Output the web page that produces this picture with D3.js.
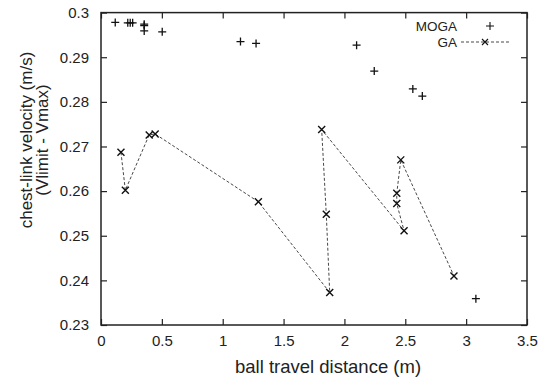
<!DOCTYPE html>
<html>
<head>
<meta charset="utf-8">
<script src="https://cdn.jsdelivr.net/npm/d3@7"></script>
<style>
  body { margin: 0; background: #fff; }
  text { font-family: "Liberation Sans", Arial, sans-serif; fill: #222; }
</style>
</head>
<body>
<div id="chart"></div>
<script>
var width = 548, height = 381,
	margin = {top: 12.6, right: 21, bottom: 56, left: 101};

// MOGA points (unconnected "+")
var mogaX = [0.117, 0.22, 0.24, 0.26, 0.355, 0.355, 0.355, 0.503, 1.146, 1.274, 2.10, 2.245, 2.562, 2.64, 3.08];
var mogaY = [0.2978, 0.2977, 0.2977, 0.2977, 0.2974, 0.2971, 0.2959, 0.2957, 0.2935, 0.2931, 0.2927, 0.2869, 0.2829, 0.2813, 0.2359];

// GA points, in drawing order ("x" joined by a dashed line)
var gaX = [0.164, 0.20, 0.396, 0.445, 1.293, 1.879, 1.851, 1.813, 2.49, 2.43, 2.43, 2.463, 2.90];
var gaY = [0.2687, 0.2602, 0.2726, 0.2728, 0.2576, 0.2373, 0.2548, 0.2738, 0.2511, 0.2572, 0.2595, 0.2670, 0.2410];

var xTicks = [0, 0.5, 1, 1.5, 2, 2.5, 3, 3.5];
var yTicks = [0.23, 0.24, 0.25, 0.26, 0.27, 0.28, 0.29, 0.3];

var svg = d3.select("#chart").append("svg")
	.attr("width", width)
	.attr("height", height);

var x = d3.scaleLinear().domain([0, 3.5]).range([margin.left, width - margin.right]),
	y = d3.scaleLinear().domain([0.23, 0.30]).range([height - margin.bottom, margin.top]);

var tickLen = 6;

// axes, ticks drawn inward on all four sides
svg.append("g")
	.attr("transform", "translate(0," + y.range()[0] + ")")
	.call(d3.axisBottom(x).tickValues(xTicks).tickSizeInner(-tickLen).tickSizeOuter(0).tickPadding(10)
		.tickFormat(d3.format("")))
	.call(styleAxis);
svg.append("g")
	.attr("transform", "translate(0," + y.range()[1] + ")")
	.call(d3.axisTop(x).tickValues(xTicks).tickSizeInner(-tickLen).tickSizeOuter(0).tickFormat(""))
	.call(styleAxis);
svg.append("g")
	.attr("transform", "translate(" + x.range()[0] + ",0)")
	.call(d3.axisLeft(y).tickValues(yTicks).tickSizeInner(-tickLen).tickSizeOuter(0).tickPadding(12)
		.tickFormat(d3.format("")))
	.call(styleAxis);
svg.append("g")
	.attr("transform", "translate(" + x.range()[1] + ",0)")
	.call(d3.axisRight(y).tickValues(yTicks).tickSizeInner(-tickLen).tickSizeOuter(0).tickFormat(""))
	.call(styleAxis);

function styleAxis(g) {
	g.select(".domain").remove();
	g.selectAll(".tick line").attr("stroke", "#222").attr("stroke-width", 1.2);
	g.selectAll(".tick text").style("font-size", "15px").style("font-family", "Liberation Sans, Arial, sans-serif").attr("fill", "#222");
}

// frame
svg.append("rect")
	.attr("x", x.range()[0])
	.attr("y", y.range()[1])
	.attr("width", x.range()[1] - x.range()[0])
	.attr("height", y.range()[0] - y.range()[1])
	.attr("fill", "none")
	.attr("stroke", "#222")
	.attr("stroke-width", 1.5);

// GA dashed line
var ga = gaX.map(function(d, i) { return [d, gaY[i]]; }),
	moga = mogaX.map(function(d, i) { return [d, mogaY[i]]; });

svg.append("path")
	.datum(ga)
	.attr("fill", "none")
	.attr("stroke", "#333")
	.attr("stroke-width", 0.9)
	.attr("stroke-dasharray", "3,2")
	.attr("d", d3.line().x(function(d) { return x(d[0]); }).y(function(d) { return y(d[1]); }));

var s = 3.5;
svg.append("g").selectAll("path")
	.data(ga)
	.enter()
	.append("path")
	.attr("transform", function(d) { return "translate(" + x(d[0]) + "," + y(d[1]) + ")"; })
	.attr("d", "M" + (-s) + "," + (-s) + "L" + s + "," + s + "M" + (-s) + "," + s + "L" + s + "," + (-s))
	.attr("stroke", "#111")
	.attr("stroke-width", 1.4)
	.attr("fill", "none");

var p = 4;
svg.append("g").selectAll("path")
	.data(moga)
	.enter()
	.append("path")
	.attr("transform", function(d) { return "translate(" + x(d[0]) + "," + y(d[1]) + ")"; })
	.attr("d", "M" + (-p) + ",0H" + p + "M0," + (-p) + "V" + p)
	.attr("stroke", "#111")
	.attr("stroke-width", 1.3)
	.attr("fill", "none");

// legend
var legend = svg.append("g").attr("transform", "translate(457,0)");
legend.append("text").attr("x", 0).attr("y", 31).attr("text-anchor", "end").style("font-size", "13.5px").text("MOGA");
legend.append("text").attr("x", 0).attr("y", 47).attr("text-anchor", "end").style("font-size", "13.5px").text("GA");
legend.append("path")
	.attr("d", "M" + (33 - p) + ",26H" + (33 + p) + "M33," + (26 - p) + "V" + (26 + p))
	.attr("stroke", "#111").attr("stroke-width", 1.1);
legend.append("line")
	.attr("x1", 4).attr("x2", 52).attr("y1", 42).attr("y2", 42)
	.attr("stroke", "#333").attr("stroke-width", 0.9).attr("stroke-dasharray", "3,2");
legend.append("path")
	.attr("transform", "translate(28,42)")
	.attr("d", "M-3,-3L3,3M-3,3L3,-3")
	.attr("stroke", "#111").attr("stroke-width", 1.1);

// axis titles
svg.append("text")
	.attr("x", 328)
	.attr("y", 373)
	.attr("text-anchor", "middle")
	.style("font-size", "18.5px")
	.text("ball travel distance (m)");

var yt = svg.append("text")
	.attr("transform", "translate(0,140) rotate(-90)")
	.attr("text-anchor", "middle")
	.style("font-size", "17px");
yt.append("tspan").attr("x", 0).attr("y", 32).text("chest-link velocity (m/s)");
yt.append("tspan").attr("x", 0).attr("y", 48).text("(Vlimit - Vmax)");
</script>
</body>
</html>
